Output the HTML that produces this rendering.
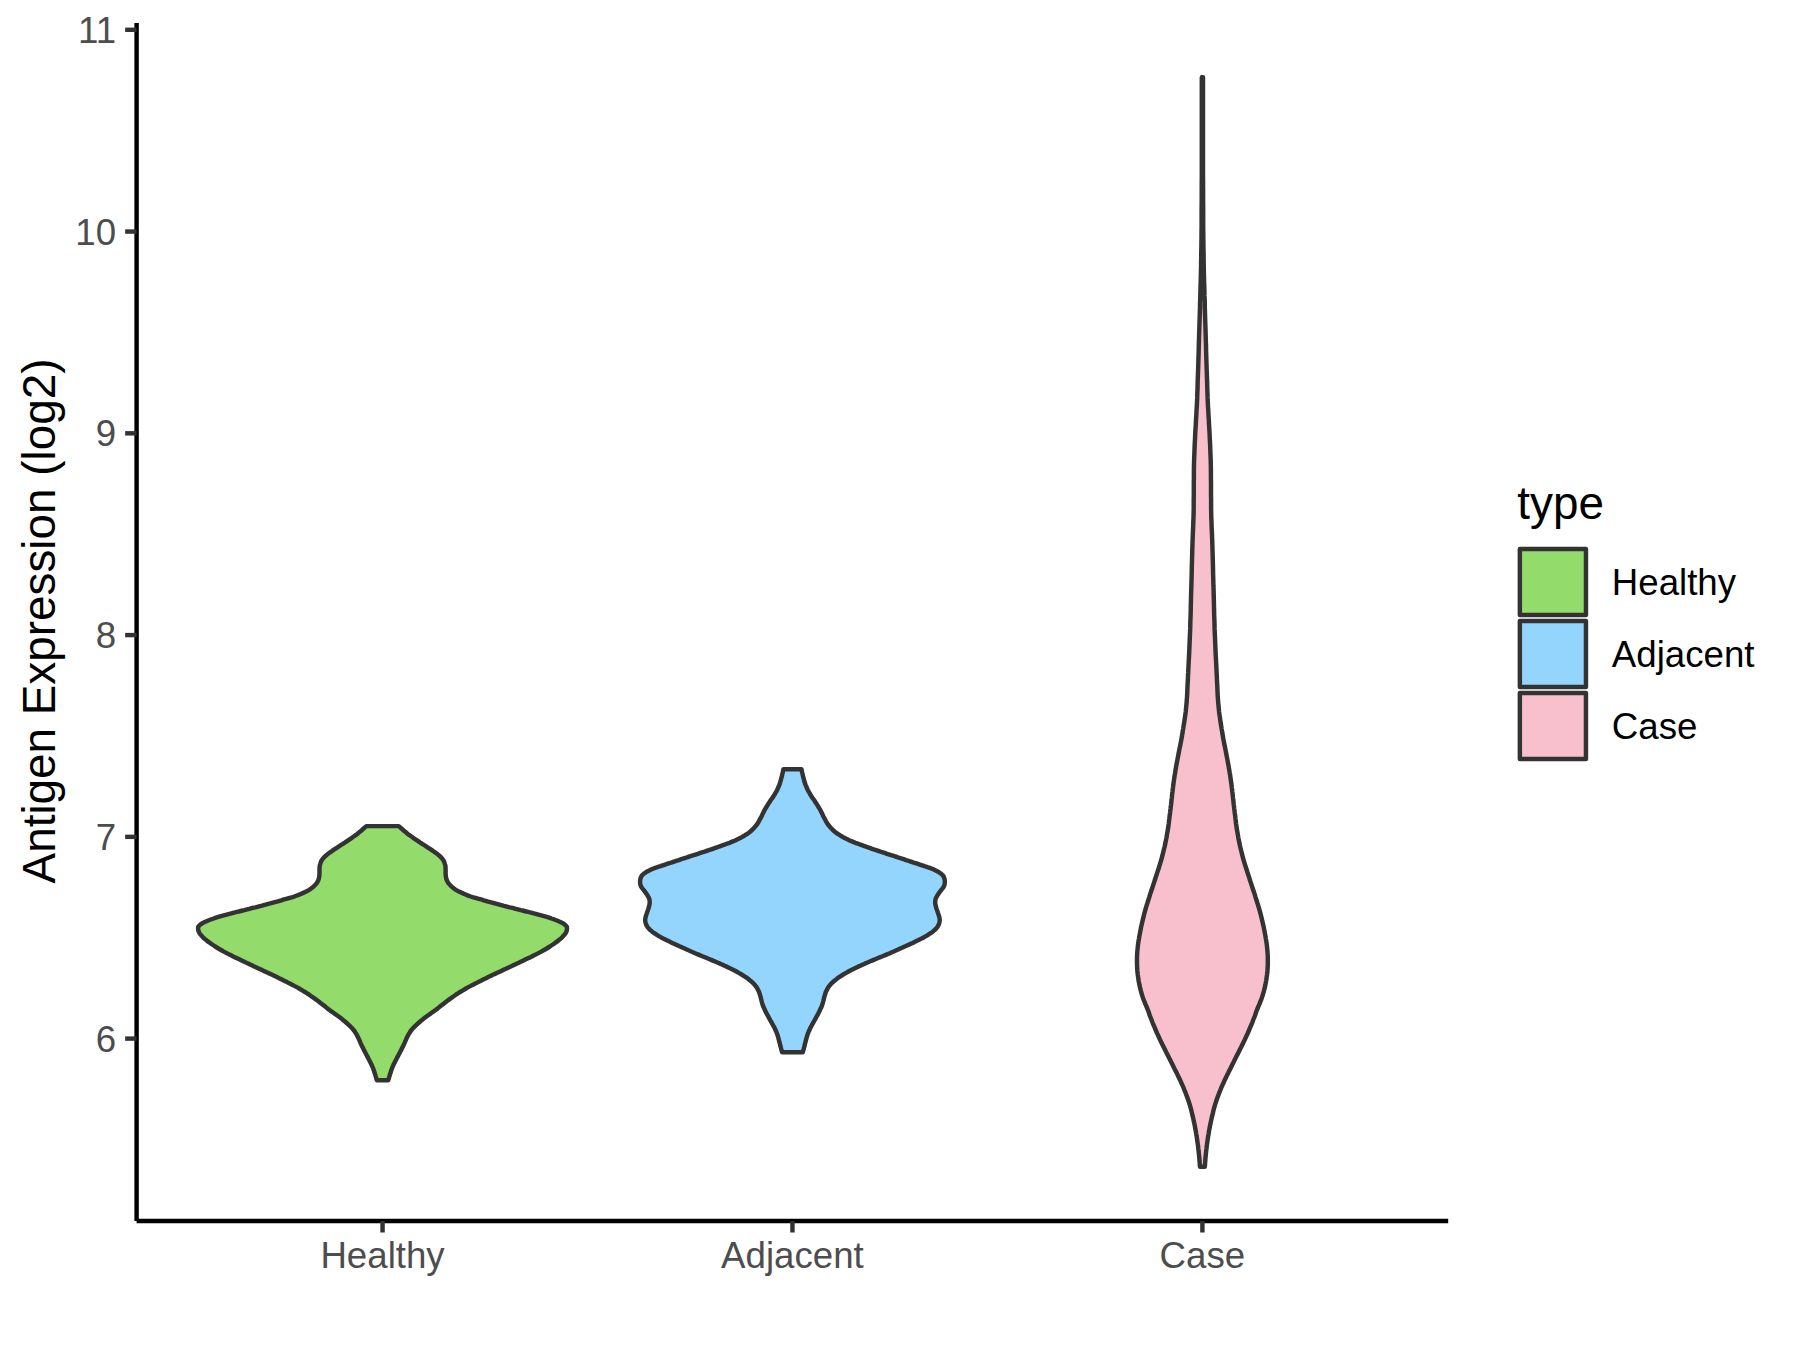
<!DOCTYPE html>
<html lang="en">
<head>
<meta charset="utf-8">
<title>Antigen Expression violin plot</title>
<style>
html,body{margin:0;padding:0;background:#fff;}
body{width:1800px;height:1350px;overflow:hidden;}
svg{display:block;}
text{font-family:"Liberation Sans",Arial,Helvetica,sans-serif;}
.ax{font-size:36.67px;fill:#4D4D4D;}
.ti{font-size:45.83px;fill:#000;}
.lg{font-size:36.67px;fill:#000;}
</style>
</head>
<body>
<svg width="1800" height="1350" viewBox="0 0 1800 1350">
<rect width="1800" height="1350" fill="#ffffff"/>
<path d="M398.7,826.1 L400.2,827.4 L401.7,828.7 L403.1,830.0 L404.6,831.3 L406.2,832.6 L407.8,833.9 L409.5,835.2 L411.4,836.5 L413.2,837.8 L415.1,839.1 L417.0,840.4 L418.9,841.7 L420.8,843.0 L422.7,844.2 L424.7,845.4 L426.5,846.6 L428.3,847.8 L430.0,848.9 L431.5,849.9 L432.9,850.9 L434.3,851.8 L435.5,852.7 L436.7,853.5 L437.8,854.4 L438.8,855.3 L439.8,856.1 L440.6,856.9 L441.4,857.7 L442.1,858.5 L442.8,859.4 L443.4,860.3 L443.9,861.2 L444.3,862.2 L444.6,863.1 L444.9,864.1 L445.2,865.0 L445.4,865.9 L445.5,866.9 L445.5,867.8 L445.6,868.7 L445.6,869.7 L445.6,870.6 L445.6,871.5 L445.6,872.5 L445.6,873.4 L445.7,874.3 L445.7,875.2 L445.8,876.1 L445.9,877.0 L446.1,877.8 L446.3,878.6 L446.5,879.5 L446.8,880.3 L447.2,881.1 L447.7,881.9 L448.2,882.8 L448.8,883.6 L449.5,884.4 L450.3,885.3 L451.1,886.1 L452.0,886.9 L453.0,887.7 L454.0,888.5 L455.1,889.3 L456.4,890.1 L457.8,890.9 L459.4,891.7 L461.2,892.6 L463.1,893.4 L465.0,894.3 L467.0,895.1 L468.9,895.8 L470.8,896.5 L472.6,897.1 L474.4,897.6 L476.3,898.1 L478.1,898.7 L480.0,899.2 L481.9,899.7 L483.7,900.3 L485.6,900.8 L487.4,901.4 L489.2,901.9 L491.1,902.4 L493.0,902.9 L494.8,903.4 L496.7,903.9 L498.5,904.4 L500.4,904.9 L502.2,905.4 L504.0,905.9 L505.9,906.3 L507.8,906.8 L509.6,907.3 L511.4,907.7 L513.3,908.2 L515.1,908.7 L517.0,909.1 L518.8,909.6 L520.7,910.1 L522.5,910.5 L524.4,911.0 L526.3,911.5 L528.1,911.9 L530.0,912.4 L531.9,912.8 L533.7,913.3 L535.6,913.8 L537.5,914.3 L539.4,914.8 L541.3,915.3 L543.2,915.9 L545.0,916.4 L546.7,916.9 L548.3,917.4 L549.9,917.9 L551.4,918.5 L552.9,919.0 L554.3,919.5 L555.6,920.0 L556.9,920.5 L558.1,921.0 L559.2,921.5 L560.3,921.9 L561.3,922.4 L562.2,922.9 L563.0,923.4 L563.8,923.9 L564.5,924.4 L565.1,924.9 L565.7,925.4 L566.1,925.9 L566.4,926.3 L566.7,926.7 L566.9,927.0 L566.9,927.4 L567.0,927.8 L567.0,928.3 L567.0,928.9 L566.9,929.4 L566.8,930.1 L566.7,930.8 L566.4,931.5 L566.1,932.2 L565.7,933.0 L565.1,933.8 L564.5,934.6 L563.8,935.5 L563.0,936.3 L562.2,937.2 L561.3,938.1 L560.3,939.0 L559.2,939.8 L558.1,940.7 L556.9,941.7 L555.6,942.6 L554.3,943.6 L552.9,944.5 L551.4,945.5 L549.9,946.5 L548.3,947.5 L546.7,948.5 L545.0,949.5 L543.2,950.5 L541.3,951.6 L539.4,952.6 L537.5,953.6 L535.6,954.6 L533.7,955.5 L531.9,956.5 L530.0,957.4 L528.1,958.2 L526.3,959.1 L524.4,960.0 L522.5,960.9 L520.7,961.8 L518.8,962.7 L517.0,963.5 L515.1,964.4 L513.3,965.3 L511.4,966.2 L509.6,967.0 L507.7,967.9 L505.9,968.8 L504.0,969.6 L502.2,970.5 L500.4,971.4 L498.5,972.2 L496.6,973.1 L494.8,973.9 L492.9,974.8 L491.1,975.7 L489.2,976.6 L487.4,977.5 L485.6,978.4 L483.7,979.3 L481.9,980.3 L480.0,981.2 L478.1,982.1 L476.3,983.1 L474.4,984.0 L472.6,984.9 L470.8,985.9 L468.9,986.9 L467.0,987.9 L465.2,989.0 L463.3,990.1 L461.5,991.2 L459.6,992.3 L457.8,993.5 L455.9,994.7 L454.1,996.0 L452.2,997.3 L450.4,998.6 L448.6,999.9 L446.7,1001.3 L444.9,1002.7 L443.0,1004.2 L441.2,1005.6 L439.3,1007.1 L437.5,1008.6 L435.6,1010.0 L433.7,1011.4 L431.7,1012.8 L429.8,1014.2 L427.9,1015.5 L426.1,1016.8 L424.4,1018.1 L422.9,1019.3 L421.5,1020.4 L420.2,1021.5 L419.0,1022.5 L417.8,1023.6 L416.7,1024.6 L415.6,1025.6 L414.6,1026.6 L413.7,1027.5 L412.8,1028.5 L411.9,1029.5 L411.1,1030.5 L410.3,1031.5 L409.7,1032.6 L409.0,1033.7 L408.4,1034.7 L407.8,1035.9 L407.2,1037.0 L406.6,1038.2 L406.1,1039.4 L405.6,1040.6 L405.0,1041.9 L404.5,1043.1 L403.9,1044.4 L403.3,1045.7 L402.7,1046.9 L402.0,1048.2 L401.4,1049.5 L400.7,1050.9 L400.0,1052.2 L399.3,1053.6 L398.5,1055.0 L397.8,1056.4 L397.0,1057.9 L396.3,1059.3 L395.6,1060.6 L395.0,1061.9 L394.3,1063.1 L393.8,1064.3 L393.2,1065.5 L392.7,1066.6 L392.2,1067.8 L391.8,1068.9 L391.4,1070.1 L391.0,1071.2 L390.7,1072.3 L390.3,1073.4 L390.0,1074.4 L389.7,1075.4 L389.4,1076.4 L389.1,1077.3 L388.8,1078.3 L388.6,1079.2 L388.3,1080.2 L376.8,1080.2 L376.5,1079.2 L376.3,1078.3 L376.0,1077.3 L375.7,1076.4 L375.4,1075.4 L375.1,1074.4 L374.8,1073.4 L374.4,1072.3 L374.1,1071.2 L373.7,1070.1 L373.3,1068.9 L372.9,1067.8 L372.4,1066.6 L371.9,1065.5 L371.3,1064.3 L370.8,1063.1 L370.1,1061.9 L369.5,1060.6 L368.8,1059.3 L368.1,1057.9 L367.3,1056.4 L366.6,1055.0 L365.8,1053.6 L365.1,1052.2 L364.4,1050.9 L363.7,1049.5 L363.1,1048.2 L362.4,1046.9 L361.8,1045.7 L361.2,1044.4 L360.6,1043.1 L360.1,1041.9 L359.6,1040.6 L359.0,1039.4 L358.5,1038.2 L357.9,1037.0 L357.3,1035.9 L356.7,1034.7 L356.1,1033.7 L355.4,1032.6 L354.8,1031.5 L354.0,1030.5 L353.2,1029.5 L352.3,1028.5 L351.4,1027.5 L350.5,1026.6 L349.5,1025.6 L348.4,1024.6 L347.3,1023.6 L346.1,1022.5 L344.9,1021.5 L343.6,1020.4 L342.2,1019.3 L340.7,1018.1 L339.0,1016.8 L337.2,1015.5 L335.3,1014.2 L333.4,1012.8 L331.4,1011.4 L329.5,1010.0 L327.6,1008.6 L325.8,1007.1 L323.9,1005.6 L322.1,1004.2 L320.2,1002.7 L318.4,1001.3 L316.6,999.9 L314.7,998.6 L312.9,997.3 L311.0,996.0 L309.2,994.7 L307.3,993.5 L305.5,992.3 L303.6,991.2 L301.8,990.1 L299.9,989.0 L298.1,987.9 L296.2,986.9 L294.3,985.9 L292.5,984.9 L290.7,984.0 L288.8,983.1 L287.0,982.1 L285.1,981.2 L283.2,980.3 L281.4,979.3 L279.6,978.4 L277.7,977.5 L275.9,976.6 L274.0,975.7 L272.2,974.8 L270.3,973.9 L268.5,973.1 L266.6,972.2 L264.8,971.4 L262.9,970.5 L261.1,969.6 L259.2,968.8 L257.4,967.9 L255.5,967.0 L253.7,966.2 L251.8,965.3 L250.0,964.4 L248.1,963.5 L246.3,962.7 L244.4,961.8 L242.6,960.9 L240.7,960.0 L238.8,959.1 L237.0,958.2 L235.1,957.4 L233.2,956.5 L231.4,955.5 L229.5,954.6 L227.6,953.6 L225.7,952.6 L223.8,951.6 L221.9,950.5 L220.1,949.5 L218.4,948.5 L216.8,947.5 L215.2,946.5 L213.7,945.5 L212.2,944.5 L210.8,943.6 L209.5,942.6 L208.2,941.7 L207.0,940.7 L205.9,939.8 L204.8,939.0 L203.8,938.1 L202.9,937.2 L202.1,936.3 L201.3,935.5 L200.6,934.6 L200.0,933.8 L199.4,933.0 L199.0,932.2 L198.7,931.5 L198.4,930.8 L198.3,930.1 L198.2,929.4 L198.1,928.9 L198.1,928.3 L198.1,927.8 L198.2,927.4 L198.2,927.0 L198.4,926.7 L198.7,926.3 L199.0,925.9 L199.4,925.4 L200.0,924.9 L200.6,924.4 L201.3,923.9 L202.1,923.4 L202.9,922.9 L203.8,922.4 L204.8,921.9 L205.9,921.5 L207.0,921.0 L208.2,920.5 L209.5,920.0 L210.8,919.5 L212.2,919.0 L213.7,918.5 L215.2,917.9 L216.8,917.4 L218.4,916.9 L220.1,916.4 L221.9,915.9 L223.8,915.3 L225.7,914.8 L227.6,914.3 L229.5,913.8 L231.4,913.3 L233.2,912.8 L235.1,912.4 L237.0,911.9 L238.8,911.5 L240.7,911.0 L242.6,910.5 L244.4,910.1 L246.3,909.6 L248.1,909.1 L250.0,908.7 L251.8,908.2 L253.7,907.7 L255.5,907.3 L257.4,906.8 L259.2,906.3 L261.1,905.9 L262.9,905.4 L264.7,904.9 L266.6,904.4 L268.4,903.9 L270.3,903.4 L272.1,902.9 L274.0,902.4 L275.9,901.9 L277.7,901.4 L279.6,900.8 L281.4,900.3 L283.2,899.7 L285.1,899.2 L287.0,898.7 L288.8,898.1 L290.7,897.6 L292.5,897.1 L294.4,896.5 L296.2,895.8 L298.1,895.1 L300.1,894.3 L302.0,893.4 L303.9,892.6 L305.7,891.7 L307.3,890.9 L308.7,890.1 L310.0,889.3 L311.1,888.5 L312.1,887.7 L313.1,886.9 L314.0,886.1 L314.8,885.3 L315.6,884.4 L316.3,883.6 L316.9,882.8 L317.4,881.9 L317.9,881.1 L318.3,880.3 L318.6,879.5 L318.8,878.6 L319.0,877.8 L319.2,877.0 L319.3,876.1 L319.4,875.2 L319.4,874.3 L319.5,873.4 L319.5,872.5 L319.5,871.5 L319.5,870.6 L319.5,869.7 L319.5,868.7 L319.6,867.8 L319.6,866.9 L319.7,865.9 L319.9,865.0 L320.2,864.1 L320.5,863.1 L320.8,862.2 L321.2,861.2 L321.7,860.3 L322.3,859.4 L323.0,858.5 L323.7,857.7 L324.5,856.9 L325.3,856.1 L326.3,855.3 L327.3,854.4 L328.4,853.5 L329.6,852.7 L330.8,851.8 L332.2,850.9 L333.6,849.9 L335.1,848.9 L336.8,847.8 L338.6,846.6 L340.4,845.4 L342.4,844.2 L344.3,843.0 L346.2,841.7 L348.1,840.4 L350.0,839.1 L351.9,837.8 L353.7,836.5 L355.6,835.2 L357.3,833.9 L358.9,832.6 L360.5,831.3 L362.0,830.0 L363.4,828.7 L364.9,827.4 L366.4,826.1Z" fill="#93DC6C" stroke="#333333" stroke-width="4.45" stroke-linejoin="round" stroke-linecap="round"/>
<path d="M801.5,769.3 L801.8,770.8 L802.1,772.2 L802.5,773.7 L802.8,775.2 L803.1,776.6 L803.5,778.0 L803.9,779.4 L804.2,780.7 L804.6,782.0 L805.0,783.4 L805.5,784.7 L806.0,786.0 L806.6,787.3 L807.2,788.7 L807.8,790.0 L808.5,791.4 L809.3,792.7 L810.0,794.0 L810.8,795.3 L811.6,796.5 L812.4,797.8 L813.3,799.0 L814.2,800.2 L815.0,801.5 L815.8,802.8 L816.7,804.1 L817.6,805.5 L818.4,806.8 L819.2,808.2 L820.0,809.5 L820.7,810.8 L821.4,812.2 L822.1,813.6 L822.7,814.9 L823.3,816.2 L824.0,817.5 L824.6,818.7 L825.3,819.9 L825.9,821.1 L826.5,822.2 L827.2,823.4 L828.0,824.5 L828.9,825.6 L829.8,826.7 L830.8,827.8 L831.8,828.9 L832.9,830.0 L834.0,831.0 L835.2,832.0 L836.4,832.9 L837.8,833.9 L839.1,834.7 L840.5,835.6 L842.0,836.5 L843.6,837.4 L845.2,838.2 L846.9,839.1 L848.6,839.9 L850.3,840.7 L852.0,841.4 L853.7,842.1 L855.3,842.8 L857.0,843.4 L858.7,844.0 L860.3,844.6 L862.0,845.2 L863.7,845.8 L865.3,846.4 L867.0,847.0 L868.7,847.6 L870.3,848.2 L872.0,848.8 L873.7,849.4 L875.3,849.9 L877.0,850.5 L878.7,851.0 L880.3,851.6 L882.0,852.1 L883.7,852.6 L885.3,853.2 L887.0,853.8 L888.7,854.3 L890.3,854.9 L892.0,855.4 L893.7,855.9 L895.3,856.5 L897.0,857.0 L898.7,857.6 L900.3,858.1 L902.0,858.7 L903.7,859.2 L905.3,859.8 L907.0,860.4 L908.7,860.9 L910.3,861.5 L912.0,862.0 L913.7,862.6 L915.5,863.1 L917.2,863.7 L919.0,864.3 L920.6,864.8 L922.0,865.3 L923.2,865.7 L924.3,866.1 L925.3,866.4 L926.2,866.7 L927.1,867.0 L928.0,867.3 L928.9,867.6 L929.8,867.9 L930.7,868.2 L931.5,868.6 L932.4,868.9 L933.3,869.3 L934.2,869.7 L935.2,870.2 L936.2,870.7 L937.2,871.2 L938.1,871.7 L938.9,872.2 L939.6,872.7 L940.3,873.1 L940.9,873.6 L941.5,874.0 L942.0,874.5 L942.5,875.0 L942.9,875.5 L943.3,876.0 L943.6,876.6 L943.9,877.2 L944.1,877.7 L944.3,878.3 L944.5,878.9 L944.6,879.5 L944.7,880.1 L944.8,880.7 L944.8,881.3 L944.8,882.0 L944.8,882.7 L944.7,883.4 L944.6,884.1 L944.5,884.8 L944.2,885.6 L943.8,886.5 L943.2,887.5 L942.4,888.6 L941.5,889.7 L940.6,890.9 L939.7,892.0 L939.0,893.0 L938.4,893.9 L937.8,894.8 L937.2,895.7 L936.8,896.5 L936.4,897.2 L936.0,898.0 L935.7,898.7 L935.5,899.4 L935.4,900.0 L935.3,900.6 L935.2,901.3 L935.2,902.0 L935.2,902.8 L935.3,903.6 L935.4,904.4 L935.6,905.2 L935.8,906.1 L936.0,907.0 L936.3,908.0 L936.6,909.0 L937.0,910.0 L937.3,911.0 L937.7,912.0 L938.0,913.0 L938.3,913.9 L938.6,914.8 L938.9,915.6 L939.1,916.4 L939.3,917.2 L939.5,918.0 L939.6,918.7 L939.7,919.4 L939.7,920.0 L939.7,920.6 L939.6,921.3 L939.5,922.0 L939.3,922.8 L939.1,923.5 L938.8,924.4 L938.4,925.2 L938.0,926.0 L937.5,926.8 L936.9,927.6 L936.3,928.3 L935.6,929.1 L934.8,929.9 L933.9,930.6 L933.0,931.4 L932.0,932.2 L930.9,933.0 L929.8,933.7 L928.6,934.5 L927.3,935.3 L926.0,936.1 L924.6,936.9 L923.2,937.7 L921.7,938.5 L920.1,939.2 L918.6,940.0 L917.0,940.8 L915.4,941.6 L913.7,942.4 L912.1,943.2 L910.4,943.9 L908.7,944.7 L907.0,945.5 L905.3,946.3 L903.7,947.0 L902.0,947.8 L900.3,948.5 L898.7,949.3 L897.0,950.0 L895.3,950.7 L893.7,951.5 L892.0,952.2 L890.3,953.0 L888.7,953.7 L887.0,954.4 L885.3,955.1 L883.7,955.8 L882.0,956.5 L880.3,957.1 L878.7,957.8 L877.0,958.5 L875.3,959.2 L873.7,959.9 L872.0,960.6 L870.3,961.3 L868.7,962.0 L867.0,962.7 L865.3,963.4 L863.6,964.2 L861.9,964.9 L860.3,965.7 L858.6,966.4 L857.0,967.2 L855.4,968.0 L853.9,968.7 L852.4,969.5 L850.9,970.2 L849.4,971.0 L848.0,971.8 L846.6,972.6 L845.2,973.4 L843.8,974.2 L842.5,975.0 L841.2,975.8 L840.0,976.6 L838.8,977.4 L837.6,978.2 L836.5,979.1 L835.5,979.9 L834.5,980.7 L833.5,981.5 L832.6,982.3 L831.8,983.1 L831.0,983.9 L830.3,984.7 L829.6,985.5 L829.0,986.3 L828.4,987.1 L827.9,987.9 L827.5,988.6 L827.1,989.4 L826.7,990.2 L826.3,991.0 L826.0,991.8 L825.6,992.6 L825.4,993.5 L825.1,994.3 L824.8,995.2 L824.6,996.0 L824.4,996.8 L824.1,997.7 L823.9,998.6 L823.7,999.4 L823.5,1000.2 L823.3,1001.0 L823.1,1001.7 L823.0,1002.4 L822.8,1003.0 L822.6,1003.6 L822.4,1004.3 L822.2,1005.0 L821.9,1005.8 L821.6,1006.6 L821.2,1007.4 L820.8,1008.3 L820.4,1009.1 L820.0,1010.0 L819.6,1010.9 L819.2,1011.7 L818.7,1012.6 L818.3,1013.5 L817.8,1014.4 L817.3,1015.3 L816.8,1016.3 L816.2,1017.2 L815.7,1018.3 L815.1,1019.3 L814.6,1020.3 L814.0,1021.3 L813.4,1022.3 L812.9,1023.3 L812.3,1024.3 L811.8,1025.3 L811.2,1026.3 L810.7,1027.3 L810.2,1028.3 L809.7,1029.3 L809.3,1030.3 L808.8,1031.2 L808.4,1032.3 L808.0,1033.3 L807.6,1034.4 L807.3,1035.5 L806.9,1036.6 L806.6,1037.7 L806.3,1038.9 L806.0,1040.0 L805.7,1041.1 L805.4,1042.3 L805.1,1043.4 L804.8,1044.5 L804.6,1045.6 L804.3,1046.7 L804.0,1047.7 L803.8,1048.6 L803.5,1049.6 L803.3,1050.5 L803.0,1051.4 L802.8,1052.3 L782.1,1052.3 L781.9,1051.4 L781.6,1050.5 L781.4,1049.6 L781.1,1048.6 L780.9,1047.7 L780.6,1046.7 L780.3,1045.6 L780.1,1044.5 L779.8,1043.4 L779.5,1042.3 L779.2,1041.1 L778.9,1040.0 L778.6,1038.9 L778.3,1037.7 L778.0,1036.6 L777.6,1035.5 L777.3,1034.4 L776.9,1033.3 L776.5,1032.3 L776.1,1031.2 L775.6,1030.3 L775.2,1029.3 L774.7,1028.3 L774.2,1027.3 L773.7,1026.3 L773.1,1025.3 L772.6,1024.3 L772.0,1023.3 L771.5,1022.3 L770.9,1021.3 L770.3,1020.3 L769.8,1019.3 L769.2,1018.3 L768.7,1017.2 L768.1,1016.3 L767.6,1015.3 L767.1,1014.4 L766.6,1013.5 L766.2,1012.6 L765.7,1011.7 L765.3,1010.9 L764.9,1010.0 L764.5,1009.1 L764.1,1008.3 L763.7,1007.4 L763.3,1006.6 L763.0,1005.8 L762.7,1005.0 L762.5,1004.3 L762.3,1003.6 L762.1,1003.0 L761.9,1002.4 L761.8,1001.7 L761.6,1001.0 L761.4,1000.2 L761.2,999.4 L761.0,998.6 L760.8,997.7 L760.5,996.8 L760.3,996.0 L760.1,995.2 L759.8,994.3 L759.5,993.5 L759.3,992.6 L758.9,991.8 L758.6,991.0 L758.2,990.2 L757.8,989.4 L757.4,988.6 L757.0,987.9 L756.5,987.1 L755.9,986.3 L755.3,985.5 L754.6,984.7 L753.9,983.9 L753.1,983.1 L752.3,982.3 L751.4,981.5 L750.4,980.7 L749.4,979.9 L748.4,979.1 L747.3,978.2 L746.1,977.4 L744.9,976.6 L743.7,975.8 L742.4,975.0 L741.1,974.2 L739.7,973.4 L738.3,972.6 L736.9,971.8 L735.5,971.0 L734.0,970.2 L732.5,969.5 L731.0,968.7 L729.5,968.0 L727.9,967.2 L726.3,966.4 L724.6,965.7 L723.0,964.9 L721.3,964.2 L719.6,963.4 L717.9,962.7 L716.2,962.0 L714.6,961.3 L712.9,960.6 L711.2,959.9 L709.6,959.2 L707.9,958.5 L706.2,957.8 L704.6,957.1 L702.9,956.5 L701.2,955.8 L699.6,955.1 L697.9,954.4 L696.2,953.7 L694.6,953.0 L692.9,952.2 L691.2,951.5 L689.6,950.7 L687.9,950.0 L686.2,949.3 L684.6,948.5 L682.9,947.8 L681.2,947.0 L679.6,946.3 L677.9,945.5 L676.2,944.7 L674.5,943.9 L672.8,943.2 L671.2,942.4 L669.5,941.6 L667.9,940.8 L666.3,940.0 L664.8,939.2 L663.2,938.5 L661.7,937.7 L660.3,936.9 L658.9,936.1 L657.6,935.3 L656.3,934.5 L655.1,933.7 L654.0,933.0 L652.9,932.2 L651.9,931.4 L651.0,930.6 L650.1,929.9 L649.3,929.1 L648.6,928.3 L648.0,927.6 L647.4,926.8 L646.9,926.0 L646.5,925.2 L646.1,924.4 L645.8,923.5 L645.6,922.8 L645.4,922.0 L645.3,921.3 L645.2,920.6 L645.2,920.0 L645.2,919.4 L645.3,918.7 L645.4,918.0 L645.6,917.2 L645.8,916.4 L646.0,915.6 L646.3,914.8 L646.6,913.9 L646.9,913.0 L647.2,912.0 L647.6,911.0 L647.9,910.0 L648.3,909.0 L648.6,908.0 L648.9,907.0 L649.1,906.1 L649.3,905.2 L649.5,904.4 L649.6,903.6 L649.7,902.8 L649.7,902.0 L649.7,901.3 L649.6,900.6 L649.5,900.0 L649.4,899.4 L649.2,898.7 L648.9,898.0 L648.5,897.2 L648.1,896.5 L647.7,895.7 L647.1,894.8 L646.5,893.9 L645.9,893.0 L645.2,892.0 L644.3,890.9 L643.4,889.7 L642.5,888.6 L641.7,887.5 L641.1,886.5 L640.7,885.6 L640.4,884.8 L640.3,884.1 L640.2,883.4 L640.1,882.7 L640.1,882.0 L640.1,881.3 L640.1,880.7 L640.2,880.1 L640.3,879.5 L640.4,878.9 L640.6,878.3 L640.8,877.7 L641.0,877.2 L641.3,876.6 L641.6,876.0 L642.0,875.5 L642.4,875.0 L642.9,874.5 L643.4,874.0 L644.0,873.6 L644.6,873.1 L645.3,872.7 L646.0,872.2 L646.8,871.7 L647.7,871.2 L648.7,870.7 L649.7,870.2 L650.7,869.7 L651.6,869.3 L652.5,868.9 L653.4,868.6 L654.2,868.2 L655.1,867.9 L656.0,867.6 L656.9,867.3 L657.8,867.0 L658.7,866.7 L659.6,866.4 L660.6,866.1 L661.7,865.7 L662.9,865.3 L664.3,864.8 L665.9,864.3 L667.7,863.7 L669.4,863.1 L671.2,862.6 L672.9,862.0 L674.6,861.5 L676.2,860.9 L677.9,860.4 L679.6,859.8 L681.2,859.2 L682.9,858.7 L684.6,858.1 L686.2,857.6 L687.9,857.0 L689.6,856.5 L691.2,855.9 L692.9,855.4 L694.6,854.9 L696.2,854.3 L697.9,853.8 L699.6,853.2 L701.2,852.6 L702.9,852.1 L704.6,851.6 L706.2,851.0 L707.9,850.5 L709.6,849.9 L711.2,849.4 L712.9,848.8 L714.6,848.2 L716.2,847.6 L717.9,847.0 L719.6,846.4 L721.2,845.8 L722.9,845.2 L724.6,844.6 L726.2,844.0 L727.9,843.4 L729.6,842.8 L731.2,842.1 L732.9,841.4 L734.6,840.7 L736.3,839.9 L738.0,839.1 L739.7,838.2 L741.3,837.4 L742.9,836.5 L744.4,835.6 L745.8,834.7 L747.2,833.9 L748.5,832.9 L749.7,832.0 L750.9,831.0 L752.0,830.0 L753.1,828.9 L754.2,827.8 L755.1,826.7 L756.0,825.6 L756.9,824.5 L757.7,823.4 L758.4,822.2 L759.0,821.1 L759.6,819.9 L760.3,818.7 L760.9,817.5 L761.6,816.2 L762.2,814.9 L762.8,813.6 L763.5,812.2 L764.2,810.8 L764.9,809.5 L765.7,808.2 L766.5,806.8 L767.3,805.5 L768.2,804.1 L769.1,802.8 L769.9,801.5 L770.7,800.2 L771.6,799.0 L772.5,797.8 L773.3,796.5 L774.1,795.3 L774.9,794.0 L775.6,792.7 L776.4,791.4 L777.1,790.0 L777.7,788.7 L778.3,787.3 L778.9,786.0 L779.4,784.7 L779.9,783.4 L780.3,782.0 L780.7,780.7 L781.0,779.4 L781.4,778.0 L781.8,776.6 L782.1,775.2 L782.4,773.7 L782.8,772.2 L783.1,770.8 L783.4,769.3Z" fill="#93D5FD" stroke="#333333" stroke-width="4.45" stroke-linejoin="round" stroke-linecap="round"/>
<path d="M1203.0,77.3 L1203.0,89.4 L1203.0,101.6 L1203.0,113.8 L1203.0,126.0 L1203.0,138.0 L1203.0,150.0 L1203.0,162.3 L1203.0,175.0 L1203.1,187.7 L1203.1,199.7 L1203.2,210.7 L1203.2,220.0 L1203.2,227.4 L1203.3,233.2 L1203.3,237.9 L1203.4,242.0 L1203.4,245.9 L1203.5,250.0 L1203.6,254.2 L1203.6,258.0 L1203.7,261.7 L1203.7,265.3 L1203.8,269.0 L1203.9,273.0 L1204.0,277.3 L1204.1,282.0 L1204.3,286.7 L1204.4,291.4 L1204.5,295.9 L1204.7,300.0 L1204.8,303.7 L1204.8,307.2 L1204.9,310.4 L1205.0,313.6 L1205.1,316.7 L1205.2,320.0 L1205.3,323.2 L1205.4,326.1 L1205.5,329.0 L1205.6,332.2 L1205.7,335.8 L1205.8,340.0 L1206.0,345.1 L1206.1,351.0 L1206.3,357.4 L1206.5,363.8 L1206.7,370.0 L1206.9,375.6 L1207.1,380.6 L1207.2,385.1 L1207.3,389.5 L1207.5,393.7 L1207.6,397.9 L1207.8,402.2 L1208.0,406.6 L1208.3,410.9 L1208.5,415.3 L1208.8,419.7 L1209.0,424.2 L1209.3,428.9 L1209.6,433.9 L1209.8,439.1 L1210.1,444.4 L1210.3,449.8 L1210.5,455.0 L1210.7,460.0 L1210.8,464.7 L1210.9,469.2 L1210.9,473.6 L1210.9,478.0 L1211.0,482.3 L1211.0,486.7 L1211.0,491.1 L1211.0,495.6 L1211.1,500.0 L1211.1,504.4 L1211.1,508.9 L1211.2,513.3 L1211.3,517.6 L1211.5,521.7 L1211.6,525.8 L1211.8,530.1 L1212.0,534.8 L1212.2,540.0 L1212.4,546.1 L1212.6,552.8 L1212.8,560.0 L1213.0,567.2 L1213.1,573.9 L1213.3,580.0 L1213.4,585.2 L1213.6,589.9 L1213.7,594.2 L1213.8,598.3 L1213.9,602.4 L1214.0,606.7 L1214.1,611.1 L1214.2,615.6 L1214.4,620.0 L1214.5,624.4 L1214.6,628.9 L1214.8,633.3 L1215.0,637.9 L1215.2,642.8 L1215.4,647.7 L1215.6,652.3 L1215.8,656.5 L1216.0,660.0 L1216.1,662.5 L1216.2,664.2 L1216.3,665.5 L1216.3,666.6 L1216.4,668.0 L1216.5,670.0 L1216.6,672.7 L1216.8,675.9 L1216.9,679.3 L1217.1,682.7 L1217.3,686.0 L1217.4,688.9 L1217.5,691.4 L1217.6,693.6 L1217.7,695.6 L1217.8,697.5 L1218.0,699.5 L1218.1,701.5 L1218.3,703.6 L1218.5,705.7 L1218.7,707.8 L1218.9,709.9 L1219.1,712.0 L1219.4,714.1 L1219.7,716.2 L1220.0,718.3 L1220.3,720.4 L1220.6,722.5 L1221.0,724.6 L1221.3,726.7 L1221.6,728.8 L1222.0,730.9 L1222.3,733.0 L1222.7,735.1 L1223.0,737.2 L1223.4,739.3 L1223.8,741.4 L1224.2,743.5 L1224.6,745.6 L1225.1,747.7 L1225.5,749.8 L1225.9,751.9 L1226.3,754.0 L1226.7,756.1 L1227.1,758.2 L1227.5,760.3 L1227.9,762.4 L1228.3,764.5 L1228.7,766.6 L1229.0,768.7 L1229.4,770.8 L1229.7,772.9 L1230.1,775.0 L1230.4,777.1 L1230.7,779.2 L1231.0,781.3 L1231.3,783.4 L1231.6,785.4 L1231.8,787.5 L1232.1,789.6 L1232.3,791.7 L1232.6,793.8 L1232.8,795.9 L1233.0,798.0 L1233.3,800.1 L1233.5,802.2 L1233.7,804.3 L1234.0,806.4 L1234.2,808.5 L1234.5,810.6 L1234.7,812.7 L1235.0,814.8 L1235.3,816.9 L1235.5,819.0 L1235.8,821.1 L1236.0,823.2 L1236.3,825.3 L1236.6,827.4 L1236.9,829.5 L1237.3,831.7 L1237.7,833.9 L1238.1,836.1 L1238.4,838.1 L1238.8,840.0 L1239.1,841.6 L1239.4,843.1 L1239.7,844.4 L1240.0,845.7 L1240.3,847.2 L1240.7,848.8 L1241.2,850.7 L1241.7,852.7 L1242.2,854.9 L1242.8,857.1 L1243.4,859.3 L1244.0,861.4 L1244.6,863.5 L1245.3,865.6 L1246.0,867.7 L1246.6,869.8 L1247.3,871.9 L1248.0,874.0 L1248.7,876.1 L1249.4,878.2 L1250.0,880.3 L1250.7,882.4 L1251.4,884.5 L1252.1,886.6 L1252.8,888.7 L1253.5,890.8 L1254.2,892.9 L1254.9,895.0 L1255.5,897.1 L1256.2,899.2 L1256.9,901.3 L1257.5,903.4 L1258.2,905.5 L1258.8,907.6 L1259.4,909.7 L1260.0,911.8 L1260.6,913.9 L1261.1,916.0 L1261.6,918.1 L1262.1,920.2 L1262.6,922.3 L1263.1,924.4 L1263.6,926.5 L1264.0,928.6 L1264.4,930.7 L1264.8,932.8 L1265.2,934.9 L1265.6,937.0 L1265.9,939.1 L1266.3,941.2 L1266.6,943.4 L1266.9,945.5 L1267.1,947.6 L1267.3,949.6 L1267.5,951.6 L1267.6,953.5 L1267.7,955.3 L1267.8,957.2 L1267.8,959.0 L1267.8,960.9 L1267.8,962.8 L1267.8,964.6 L1267.7,966.5 L1267.6,968.3 L1267.5,970.2 L1267.3,972.2 L1267.1,974.2 L1266.8,976.3 L1266.5,978.4 L1266.2,980.6 L1265.8,982.7 L1265.4,984.8 L1264.9,986.9 L1264.4,989.0 L1263.9,991.1 L1263.3,993.2 L1262.7,995.3 L1262.0,997.4 L1261.2,999.6 L1260.3,1001.8 L1259.4,1004.1 L1258.4,1006.3 L1257.6,1008.3 L1256.9,1010.0 L1256.4,1011.3 L1256.1,1012.3 L1255.8,1013.1 L1255.5,1014.0 L1255.2,1015.0 L1254.7,1016.3 L1254.0,1018.0 L1253.2,1020.0 L1252.4,1022.2 L1251.5,1024.5 L1250.5,1026.7 L1249.6,1028.9 L1248.7,1031.0 L1247.8,1033.1 L1246.8,1035.2 L1245.9,1037.3 L1244.9,1039.4 L1243.9,1041.5 L1242.9,1043.6 L1241.8,1045.7 L1240.8,1047.8 L1239.7,1049.9 L1238.7,1052.0 L1237.6,1054.1 L1236.5,1056.2 L1235.5,1058.3 L1234.4,1060.4 L1233.4,1062.5 L1232.3,1064.6 L1231.3,1066.7 L1230.3,1068.8 L1229.2,1070.9 L1228.2,1073.0 L1227.1,1075.1 L1226.1,1077.2 L1225.1,1079.3 L1224.1,1081.4 L1223.2,1083.5 L1222.2,1085.6 L1221.3,1087.7 L1220.5,1089.8 L1219.6,1091.9 L1218.8,1094.0 L1218.0,1096.1 L1217.2,1098.2 L1216.5,1100.3 L1215.8,1102.4 L1215.1,1104.5 L1214.5,1106.6 L1213.9,1108.7 L1213.4,1110.8 L1212.9,1112.9 L1212.4,1115.0 L1211.9,1117.1 L1211.4,1119.2 L1211.0,1121.3 L1210.5,1123.3 L1210.1,1125.4 L1209.7,1127.5 L1209.3,1129.6 L1208.9,1131.7 L1208.6,1133.8 L1208.2,1135.9 L1207.9,1138.0 L1207.6,1140.1 L1207.3,1142.2 L1207.0,1144.3 L1206.7,1146.4 L1206.5,1148.5 L1206.2,1150.7 L1206.0,1152.7 L1205.8,1154.8 L1205.6,1156.8 L1205.4,1158.8 L1205.3,1160.8 L1205.1,1162.8 L1205.0,1164.7 L1204.8,1166.7 L1200.0,1166.7 L1199.8,1164.7 L1199.7,1162.8 L1199.5,1160.8 L1199.4,1158.8 L1199.2,1156.8 L1199.0,1154.8 L1198.8,1152.7 L1198.6,1150.7 L1198.3,1148.5 L1198.1,1146.4 L1197.8,1144.3 L1197.5,1142.2 L1197.2,1140.1 L1196.9,1138.0 L1196.6,1135.9 L1196.2,1133.8 L1195.9,1131.7 L1195.5,1129.6 L1195.1,1127.5 L1194.7,1125.4 L1194.3,1123.3 L1193.8,1121.3 L1193.4,1119.2 L1192.9,1117.1 L1192.4,1115.0 L1191.9,1112.9 L1191.4,1110.8 L1190.9,1108.7 L1190.3,1106.6 L1189.7,1104.5 L1189.0,1102.4 L1188.3,1100.3 L1187.6,1098.2 L1186.8,1096.1 L1186.0,1094.0 L1185.2,1091.9 L1184.3,1089.8 L1183.5,1087.7 L1182.6,1085.6 L1181.6,1083.5 L1180.7,1081.4 L1179.7,1079.3 L1178.7,1077.2 L1177.7,1075.1 L1176.7,1073.0 L1175.6,1070.9 L1174.5,1068.8 L1173.5,1066.7 L1172.5,1064.6 L1171.4,1062.5 L1170.4,1060.4 L1169.3,1058.3 L1168.3,1056.2 L1167.2,1054.1 L1166.1,1052.0 L1165.1,1049.9 L1164.0,1047.8 L1163.0,1045.7 L1161.9,1043.6 L1160.9,1041.5 L1159.9,1039.4 L1158.9,1037.3 L1158.0,1035.2 L1157.0,1033.1 L1156.1,1031.0 L1155.2,1028.9 L1154.3,1026.7 L1153.3,1024.5 L1152.4,1022.2 L1151.6,1020.0 L1150.8,1018.0 L1150.1,1016.3 L1149.6,1015.0 L1149.3,1014.0 L1149.0,1013.1 L1148.7,1012.3 L1148.4,1011.3 L1147.9,1010.0 L1147.2,1008.3 L1146.4,1006.3 L1145.4,1004.1 L1144.5,1001.8 L1143.6,999.6 L1142.8,997.4 L1142.1,995.3 L1141.5,993.2 L1140.9,991.1 L1140.4,989.0 L1139.9,986.9 L1139.4,984.8 L1139.0,982.7 L1138.6,980.6 L1138.3,978.4 L1138.0,976.3 L1137.7,974.2 L1137.5,972.2 L1137.3,970.2 L1137.2,968.3 L1137.1,966.5 L1137.0,964.6 L1137.0,962.8 L1137.0,960.9 L1137.0,959.0 L1137.0,957.2 L1137.1,955.3 L1137.2,953.5 L1137.3,951.6 L1137.5,949.6 L1137.7,947.6 L1137.9,945.5 L1138.2,943.4 L1138.5,941.2 L1138.9,939.1 L1139.2,937.0 L1139.6,934.9 L1140.0,932.8 L1140.4,930.7 L1140.8,928.6 L1141.2,926.5 L1141.7,924.4 L1142.2,922.3 L1142.7,920.2 L1143.2,918.1 L1143.7,916.0 L1144.2,913.9 L1144.8,911.8 L1145.4,909.7 L1146.0,907.6 L1146.6,905.5 L1147.3,903.4 L1147.9,901.3 L1148.6,899.2 L1149.3,897.1 L1149.9,895.0 L1150.6,892.9 L1151.3,890.8 L1152.0,888.7 L1152.7,886.6 L1153.4,884.5 L1154.1,882.4 L1154.8,880.3 L1155.4,878.2 L1156.1,876.1 L1156.8,874.0 L1157.5,871.9 L1158.2,869.8 L1158.9,867.7 L1159.5,865.6 L1160.2,863.5 L1160.8,861.4 L1161.4,859.3 L1162.0,857.1 L1162.6,854.9 L1163.1,852.7 L1163.6,850.7 L1164.1,848.8 L1164.5,847.2 L1164.8,845.7 L1165.1,844.4 L1165.4,843.1 L1165.7,841.6 L1166.0,840.0 L1166.4,838.1 L1166.7,836.1 L1167.1,833.9 L1167.5,831.7 L1167.9,829.5 L1168.2,827.4 L1168.5,825.3 L1168.8,823.2 L1169.0,821.1 L1169.3,819.0 L1169.5,816.9 L1169.8,814.8 L1170.1,812.7 L1170.3,810.6 L1170.6,808.5 L1170.8,806.4 L1171.1,804.3 L1171.3,802.2 L1171.5,800.1 L1171.8,798.0 L1172.0,795.9 L1172.2,793.8 L1172.5,791.7 L1172.7,789.6 L1173.0,787.5 L1173.2,785.4 L1173.5,783.4 L1173.8,781.3 L1174.1,779.2 L1174.4,777.1 L1174.7,775.0 L1175.1,772.9 L1175.4,770.8 L1175.8,768.7 L1176.1,766.6 L1176.5,764.5 L1176.9,762.4 L1177.3,760.3 L1177.7,758.2 L1178.1,756.1 L1178.5,754.0 L1178.9,751.9 L1179.3,749.8 L1179.7,747.7 L1180.2,745.6 L1180.6,743.5 L1181.0,741.4 L1181.4,739.3 L1181.8,737.2 L1182.1,735.1 L1182.5,733.0 L1182.8,730.9 L1183.2,728.8 L1183.5,726.7 L1183.8,724.6 L1184.2,722.5 L1184.5,720.4 L1184.8,718.3 L1185.1,716.2 L1185.4,714.1 L1185.7,712.0 L1185.9,709.9 L1186.1,707.8 L1186.3,705.7 L1186.5,703.6 L1186.7,701.5 L1186.8,699.5 L1187.0,697.5 L1187.1,695.6 L1187.2,693.6 L1187.3,691.4 L1187.4,688.9 L1187.5,686.0 L1187.7,682.7 L1187.9,679.3 L1188.0,675.9 L1188.2,672.7 L1188.3,670.0 L1188.4,668.0 L1188.5,666.6 L1188.5,665.5 L1188.6,664.2 L1188.7,662.5 L1188.8,660.0 L1189.0,656.5 L1189.2,652.3 L1189.4,647.7 L1189.6,642.8 L1189.8,637.9 L1190.0,633.3 L1190.2,628.9 L1190.3,624.4 L1190.4,620.0 L1190.6,615.6 L1190.7,611.1 L1190.8,606.7 L1190.9,602.4 L1191.0,598.3 L1191.1,594.2 L1191.2,589.9 L1191.4,585.2 L1191.5,580.0 L1191.7,573.9 L1191.8,567.2 L1192.0,560.0 L1192.2,552.8 L1192.4,546.1 L1192.6,540.0 L1192.8,534.8 L1193.0,530.1 L1193.2,525.8 L1193.3,521.7 L1193.5,517.6 L1193.6,513.3 L1193.7,508.9 L1193.7,504.4 L1193.7,500.0 L1193.8,495.6 L1193.8,491.1 L1193.8,486.7 L1193.8,482.3 L1193.9,478.0 L1193.9,473.6 L1193.9,469.2 L1194.0,464.7 L1194.1,460.0 L1194.3,455.0 L1194.5,449.8 L1194.7,444.4 L1195.0,439.1 L1195.2,433.9 L1195.5,428.9 L1195.8,424.2 L1196.0,419.7 L1196.3,415.3 L1196.5,410.9 L1196.8,406.6 L1197.0,402.2 L1197.2,397.9 L1197.3,393.7 L1197.5,389.5 L1197.6,385.1 L1197.7,380.6 L1197.9,375.6 L1198.1,370.0 L1198.3,363.8 L1198.5,357.4 L1198.7,351.0 L1198.8,345.1 L1199.0,340.0 L1199.1,335.8 L1199.2,332.2 L1199.3,329.0 L1199.4,326.1 L1199.5,323.2 L1199.6,320.0 L1199.7,316.7 L1199.8,313.6 L1199.9,310.4 L1200.0,307.2 L1200.0,303.7 L1200.2,300.0 L1200.3,295.9 L1200.4,291.4 L1200.5,286.7 L1200.7,282.0 L1200.8,277.3 L1200.9,273.0 L1201.0,269.0 L1201.1,265.3 L1201.1,261.7 L1201.2,258.0 L1201.2,254.2 L1201.3,250.0 L1201.4,245.9 L1201.4,242.0 L1201.5,237.9 L1201.5,233.2 L1201.6,227.4 L1201.6,220.0 L1201.6,210.7 L1201.7,199.7 L1201.7,187.7 L1201.8,175.0 L1201.8,162.3 L1201.8,150.0 L1201.8,138.0 L1201.8,126.0 L1201.8,113.8 L1201.8,101.6 L1201.8,89.4 L1201.8,77.3Z" fill="#F8C0CC" stroke="#333333" stroke-width="4.45" stroke-linejoin="round" stroke-linecap="round"/>
<line x1="136.6" y1="22.9" x2="136.6" y2="1221.05" stroke="#000" stroke-width="4.45"/>
<line x1="136.6" y1="1221.05" x2="1448.2" y2="1221.05" stroke="#000" stroke-width="4.45"/>
<line x1="125.14" y1="1038.60" x2="136.6" y2="1038.60" stroke="#333333" stroke-width="4.45"/>
<text class="ax" x="116.1" y="1051.70" text-anchor="end">6</text>
<line x1="125.14" y1="836.84" x2="136.6" y2="836.84" stroke="#333333" stroke-width="4.45"/>
<text class="ax" x="116.1" y="849.94" text-anchor="end">7</text>
<line x1="125.14" y1="635.08" x2="136.6" y2="635.08" stroke="#333333" stroke-width="4.45"/>
<text class="ax" x="116.1" y="648.18" text-anchor="end">8</text>
<line x1="125.14" y1="433.32" x2="136.6" y2="433.32" stroke="#333333" stroke-width="4.45"/>
<text class="ax" x="116.1" y="446.42" text-anchor="end">9</text>
<line x1="125.14" y1="231.56" x2="136.6" y2="231.56" stroke="#333333" stroke-width="4.45"/>
<text class="ax" x="116.1" y="244.66" text-anchor="end">10</text>
<line x1="125.14" y1="29.80" x2="136.6" y2="29.80" stroke="#333333" stroke-width="4.45"/>
<text class="ax" x="116.1" y="42.90" text-anchor="end">11</text>
<line x1="382.55" y1="1221.05" x2="382.55" y2="1232.51" stroke="#333333" stroke-width="4.45"/>
<text class="ax" x="382.55" y="1267.6" text-anchor="middle">Healthy</text>
<line x1="792.45" y1="1221.05" x2="792.45" y2="1232.51" stroke="#333333" stroke-width="4.45"/>
<text class="ax" x="792.45" y="1267.6" text-anchor="middle">Adjacent</text>
<line x1="1202.4" y1="1221.05" x2="1202.4" y2="1232.51" stroke="#333333" stroke-width="4.45"/>
<text class="ax" x="1202.4" y="1267.6" text-anchor="middle">Case</text>
<text class="ti" transform="translate(55.1,621.0) rotate(-90)" text-anchor="middle">Antigen Expression (log2)</text>
<text class="ti" x="1517.3" y="519.2">type</text>
<rect x="1519.85" y="548.95" width="66.10" height="66.10" fill="#93DC6C" stroke="#333333" stroke-width="4.45" stroke-linejoin="round"/>
<text class="lg" x="1611.8" y="595.10">Healthy</text>
<rect x="1519.85" y="620.95" width="66.10" height="66.10" fill="#93D5FD" stroke="#333333" stroke-width="4.45" stroke-linejoin="round"/>
<text class="lg" x="1611.8" y="667.10">Adjacent</text>
<rect x="1519.85" y="692.95" width="66.10" height="66.10" fill="#F8C0CC" stroke="#333333" stroke-width="4.45" stroke-linejoin="round"/>
<text class="lg" x="1611.8" y="739.10">Case</text>
</svg>
</body>
</html>
